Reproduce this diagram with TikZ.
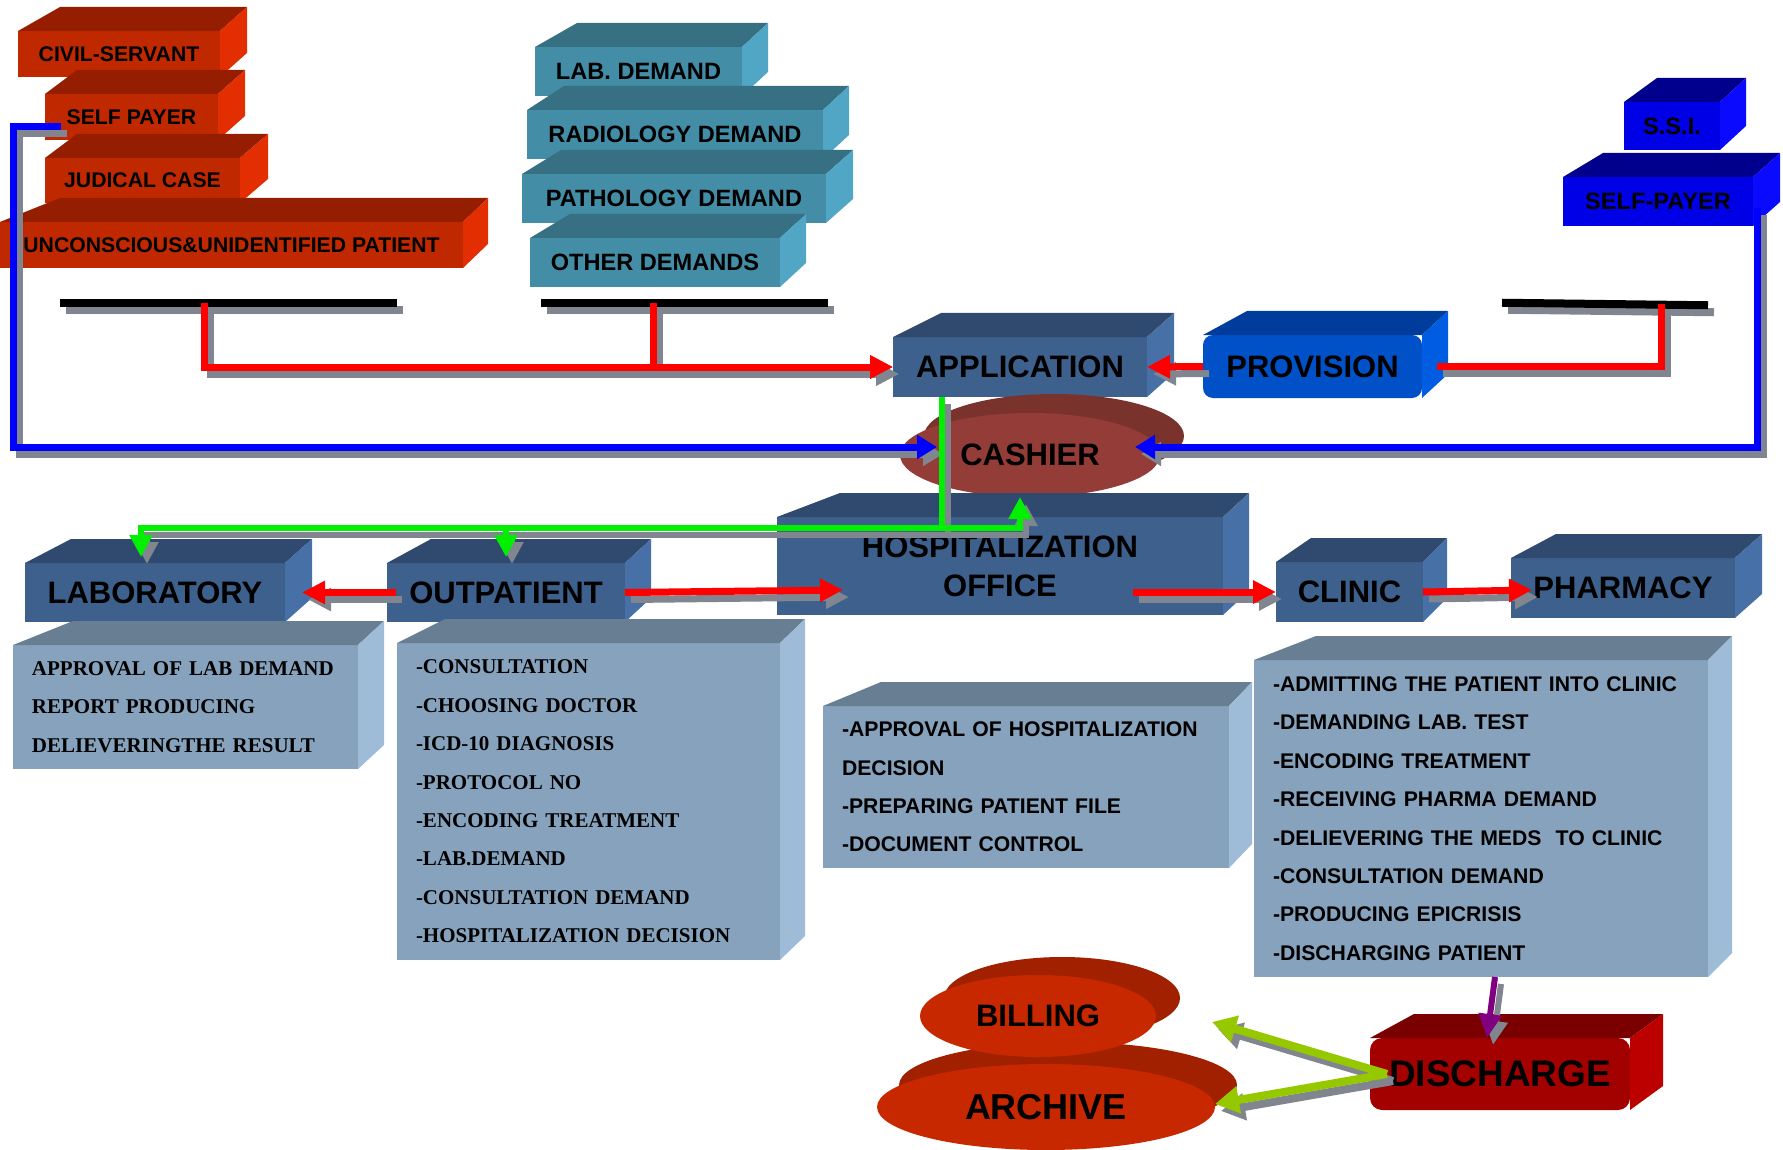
\documentclass[tikz,border=0pt]{standalone}
\usepackage{fontspec}
\setmainfont{Liberation Sans}
\newfontfamily\panelserif{Liberation Serif}
\usepackage{tikz}
\usetikzlibrary{arrows.meta,shapes.geometric}

\definecolor{redfront}{RGB}{192,40,0}
\definecolor{redtop}{RGB}{150,30,0}
\definecolor{redside}{RGB}{226,46,0}
\definecolor{tealfront}{RGB}{67,141,166}
\definecolor{tealtop}{RGB}{55,112,130}
\definecolor{tealside}{RGB}{80,166,196}
\definecolor{unitfront}{RGB}{61,96,140}
\definecolor{unittop}{RGB}{47,74,110}
\definecolor{unitside}{RGB}{70,112,166}
\definecolor{provfront}{RGB}{0,80,200}
\definecolor{provtop}{RGB}{0,60,155}
\definecolor{provside}{RGB}{0,92,225}
\definecolor{ssifront}{RGB}{0,0,230}
\definecolor{ssitop}{RGB}{0,0,140}
\definecolor{ssiside}{RGB}{10,10,255}
\definecolor{panelfront}{RGB}{135,162,188}
\definecolor{paneltop}{RGB}{104,126,146}
\definecolor{panelside}{RGB}{158,187,215}
\definecolor{cashfront}{RGB}{148,60,55}
\definecolor{cashtop}{RGB}{122,50,45}
\definecolor{discfront}{RGB}{200,40,0}
\definecolor{disctop}{RGB}{160,32,0}
\definecolor{outfront}{RGB}{163,0,0}
\definecolor{outtop}{RGB}{122,0,0}
\definecolor{outside}{RGB}{188,0,0}
\definecolor{shade}{RGB}{128,133,143}
\definecolor{greenline}{RGB}{0,240,0}
\definecolor{dischline}{RGB}{150,200,0}
\definecolor{clinline}{RGB}{128,0,128}

% top and right faces of a box node: node, left shift, right shift, top colour, side colour
\newcommand{\boxfaces}[5]{%
\fill[#4] (#1.north west) -- ++(#2,-24) -- ([shift={(#3,-24)}]#1.north east) -- (#1.north east) -- cycle;
\fill[#5] (#1.north east) -- ([shift={(#3,-24)}]#1.north east) -- ([shift={(#3,-24)}]#1.south east) -- (#1.south east) -- cycle;}

\begin{document}
\begin{tikzpicture}[x=0.5pt,y=-0.5pt]
\tikzset{slab/.style={inner sep=0pt,outer sep=0pt},
redbox/.style={slab,fill=redfront,font=\fontsize{10.6}{12}\selectfont\bfseries},
tealbox/.style={slab,fill=tealfront,font=\fontsize{11.8}{14}\selectfont\bfseries},
ssibox/.style={slab,fill=ssifront,font=\fontsize{11.8}{14}\selectfont\bfseries},
unitbox/.style={slab,fill=unitfront,font=\fontsize{15.5}{19.5}\selectfont\bfseries},
provbox/.style={unitbox,fill=provfront,rounded corners=5pt},
outbox/.style={slab,fill=outfront,rounded corners=6pt,font=\fontsize{18.5}{22}\selectfont\bfseries},
panel/.style={slab,fill=panelfront,align=left,inner xsep=9.5pt,font=\fontsize{10.6}{19.2}\selectfont\bfseries},
serifpanel/.style={panel,font=\fontsize{10.5}{19.2}\selectfont\panelserif\bfseries},
disc/.style={ellipse,inner sep=0pt,outer sep=0pt,font=\fontsize{15.5}{18}\selectfont\bfseries},
bar/.style={fill=black,inner sep=0pt,outer sep=0pt,minimum height=4pt,preaction={fill=shade,transform canvas={shift={(3pt,-3.5pt)}}}},
link/.style={line width=#1,preaction={draw=shade,line width=#1,transform canvas={shift={(3pt,-3.5pt)}}}},
redlink/.style={link=3.5pt,draw=red,-{Triangle[length=11.5pt,width=11pt]}},
redline/.style={link=3.5pt,draw=red},
bluelink/.style={link=3.5pt,draw=blue,-{Triangle[length=10pt,width=11.5pt]}},
greenlink/.style={link=3pt,draw=greenline,-{Triangle[length=11pt,width=11pt]}},
greenfeed/.style={link=3pt,draw=greenline},
limelink/.style={link=4pt,draw=dischline,-{Triangle[length=12pt,width=13pt]}},
plumlink/.style={link=3pt,draw=clinline,-{Triangle[length=12pt,width=11pt]}}}
\useasboundingbox (0,0) rectangle (1783,1150);

\node[redbox,minimum width=101pt,minimum height=23pt] (civil) at (119,54) {CIVIL-SERVANT};
\boxfaces{civil}{42}{27}{redtop}{redside}
\node[redbox,minimum width=86.5pt,minimum height=23pt] (selfp) at (131.5,117) {SELF PAYER};
\boxfaces{selfp}{32}{27}{redtop}{redside}
\node[redbox,minimum width=97.5pt,minimum height=22.5pt] (judical) at (142.5,180.5) {JUDICAL CASE};
\boxfaces{judical}{32}{28}{redtop}{redside}
\node[redbox,minimum width=231.5pt,minimum height=23pt] (uncon) at (231.5,245) {UNCONSCIOUS\&UNIDENTIFIED PATIENT};
\boxfaces{uncon}{60}{25}{redtop}{redside}

\node[tealbox,minimum width=103.5pt,minimum height=24.5pt] (labdem) at (638.5,71.5) {LAB. DEMAND};
\boxfaces{labdem}{42}{26}{tealtop}{tealside}
\node[tealbox,minimum width=148pt,minimum height=24.5pt] (raddem) at (675,134.5) {RADIOLOGY DEMAND};
\boxfaces{raddem}{37}{26}{tealtop}{tealside}
\node[tealbox,minimum width=152pt,minimum height=24.5pt] (patdem) at (674,198.5) {PATHOLOGY DEMAND};
\boxfaces{patdem}{39}{27}{tealtop}{tealside}
\node[tealbox,minimum width=125pt,minimum height=24.5pt] (othdem) at (655,262.5) {OTHER DEMANDS};
\boxfaces{othdem}{40}{26}{tealtop}{tealside}

\node[ssibox,minimum width=48pt,minimum height=24pt] (ssi) at (1672,126) {S.S.I.};
\boxfaces{ssi}{33}{26}{ssitop}{ssiside}
\node[ssibox,minimum width=95pt,minimum height=24.5pt] (spayer) at (1658,201.5) {SELF-PAYER};
\boxfaces{spayer}{40}{27}{ssitop}{ssiside}

\node[bar,minimum width=168.5pt] (bar1) at (228.5,303) {};
\node[bar,minimum width=143.5pt] (bar2) at (684.5,303) {};
\node[bar,minimum width=103pt,rotate=-0.7] (bar3) at (1605,304) {};

\node[unitbox,minimum width=127pt,minimum height=30pt] (app) at (1020,367) {APPLICATION};
\boxfaces{app}{48}{27}{unittop}{unitside}
\node[provbox,minimum width=109.5pt,minimum height=31.5pt] (prov) at (1312.5,366.5) {PROVISION};
\boxfaces{prov}{44}{26}{provtop}{provside}

\fill[cashtop] (1054,436) ellipse [x radius=65pt,y radius=21pt];
\node[disc,fill=cashfront,minimum width=130pt,minimum height=42pt] (cashier) at (1030,455) {CASHIER};

\node[unitbox,minimum width=223pt,minimum height=49pt,align=center] (hosp) at (1000,566) {HOSPITALIZATION\\OFFICE};
\boxfaces{hosp}{63}{26}{unittop}{unitside}
\node[unitbox,minimum width=130pt,minimum height=29.5pt] (lab) at (155,592.5) {LABORATORY};
\boxfaces{lab}{46}{27}{unittop}{unitside}
\node[unitbox,minimum width=119pt,minimum height=29.5pt] (outp) at (506,592.5) {OUTPATIENT};
\boxfaces{outp}{44}{26}{unittop}{unitside}
\node[unitbox,minimum width=73.5pt,minimum height=30pt] (clinic) at (1349.5,592) {CLINIC};
\boxfaces{clinic}{35}{24}{unittop}{unitside}
\node[unitbox,minimum width=112pt,minimum height=30pt] (pharm) at (1623,588) {PHARMACY};
\boxfaces{pharm}{45}{27}{unittop}{unitside}

\node[serifpanel,minimum width=172.5pt,minimum height=62pt,text width=153.5pt] (lpanel) at (185.5,707) {APPROVAL OF LAB DEMAND\\REPORT PRODUCING\\DELIEVERINGTHE RESULT};
\boxfaces{lpanel}{60}{26}{paneltop}{panelside}
\node[serifpanel,minimum width=191.5pt,minimum height=158.5pt,text width=172.5pt] (opanel) at (588.5,801.5) {-CONSULTATION\\-CHOOSING DOCTOR\\-ICD-10 DIAGNOSIS\\-PROTOCOL NO\\-ENCODING TREATMENT\\-LAB.DEMAND\\-CONSULTATION DEMAND\\-HOSPITALIZATION DECISION};
\boxfaces{opanel}{48}{25}{paneltop}{panelside}
\node[panel,minimum width=203pt,minimum height=81pt,text width=184pt] (hpanel) at (1026,787) {-APPROVAL OF HOSPITALIZATION\\DECISION\\-PREPARING PATIENT FILE\\-DOCUMENT CONTROL};
\boxfaces{hpanel}{58}{23}{paneltop}{panelside}
\node[panel,minimum width=227pt,minimum height=158.5pt,text width=208pt] (cpanel) at (1481,818.5) {-ADMITTING THE PATIENT INTO CLINIC\\-DEMANDING LAB. TEST\\-ENCODING TREATMENT\\-RECEIVING PHARMA DEMAND\\-DELIEVERING THE MEDS~~TO CLINIC\\-CONSULTATION DEMAND\\-PRODUCING EPICRISIS\\-DISCHARGING PATIENT};
\boxfaces{cpanel}{62}{24}{paneltop}{panelside}

\fill[disctop] (1068,1085) ellipse [x radius=84.5pt,y radius=21.5pt];
\node[disc,fill=discfront,minimum width=169pt,minimum height=43pt,font=\fontsize{18}{20}\selectfont\bfseries] (archive) at (1046,1107) {ARCHIVE};
\fill[disctop] (1062,998) ellipse [x radius=59pt,y radius=20.5pt];
\node[disc,fill=discfront,minimum width=118pt,minimum height=41pt] (billing) at (1038,1016) {BILLING};
\node[outbox,minimum width=130pt,minimum height=36pt] (disch) at (1500,1074) {DISCHARGE};
\boxfaces{disch}{44}{33}{outtop}{outside}

\coordinate (gj) at (942,528);
\coordinate (cashL) at (937,447);
\coordinate (cashR) at (1135,447);
\coordinate (hospin) at (843,590);
\coordinate (hospout) at (1133,592);

\draw[redlink] ([xshift=-12.25pt]bar1.center) |- (app.west);
\draw[redlink] ([xshift=-15.75pt]bar2.center) |- (app.west);
\draw[redline] ([xshift=7.5pt]prov.east) -| ([xshift=28pt]bar3.center);
\draw[redlink] (prov.west) -- (app.east);

\draw[bluelink] ([xshift=8pt,yshift=-5pt]selfp.west) -- ++(-48,0) |- (cashL);
\draw[bluelink] ([xshift=2pt,yshift=9pt]spayer.south east) |- (cashR);

\draw[greenfeed] ([xshift=-39pt]app.south) -- (gj);
\draw[greenlink] (gj) -| ([xshift=-7pt,yshift=3pt]lab.north);
\draw[greenlink] (gj) -| ([yshift=3pt]outp.north);
\draw[greenlink] (gj) -| ([xshift=-5pt]cashier.south);

\draw[redlink] ([xshift=4.5pt]outp.west) -- ([xshift=8.5pt]lab.east);
\draw[redlink] (outp.east) -- (hospin);
\draw[redlink] (hospout) -- (clinic.west);
\draw[redlink] (clinic.east) -- ([xshift=10.5pt,yshift=-1pt]pharm.west);

\draw[plumlink] ([xshift=7pt]cpanel.south) -- ([xshift=-6.5pt]disch.north);
\draw[limelink] ([xshift=8.5pt]disch.west) -- ([xshift=28pt,yshift=-3pt]billing.east);
\draw[limelink] ([xshift=8.5pt]disch.west) -- ([yshift=1.5pt]archive.east);

\end{tikzpicture}
\end{document}
